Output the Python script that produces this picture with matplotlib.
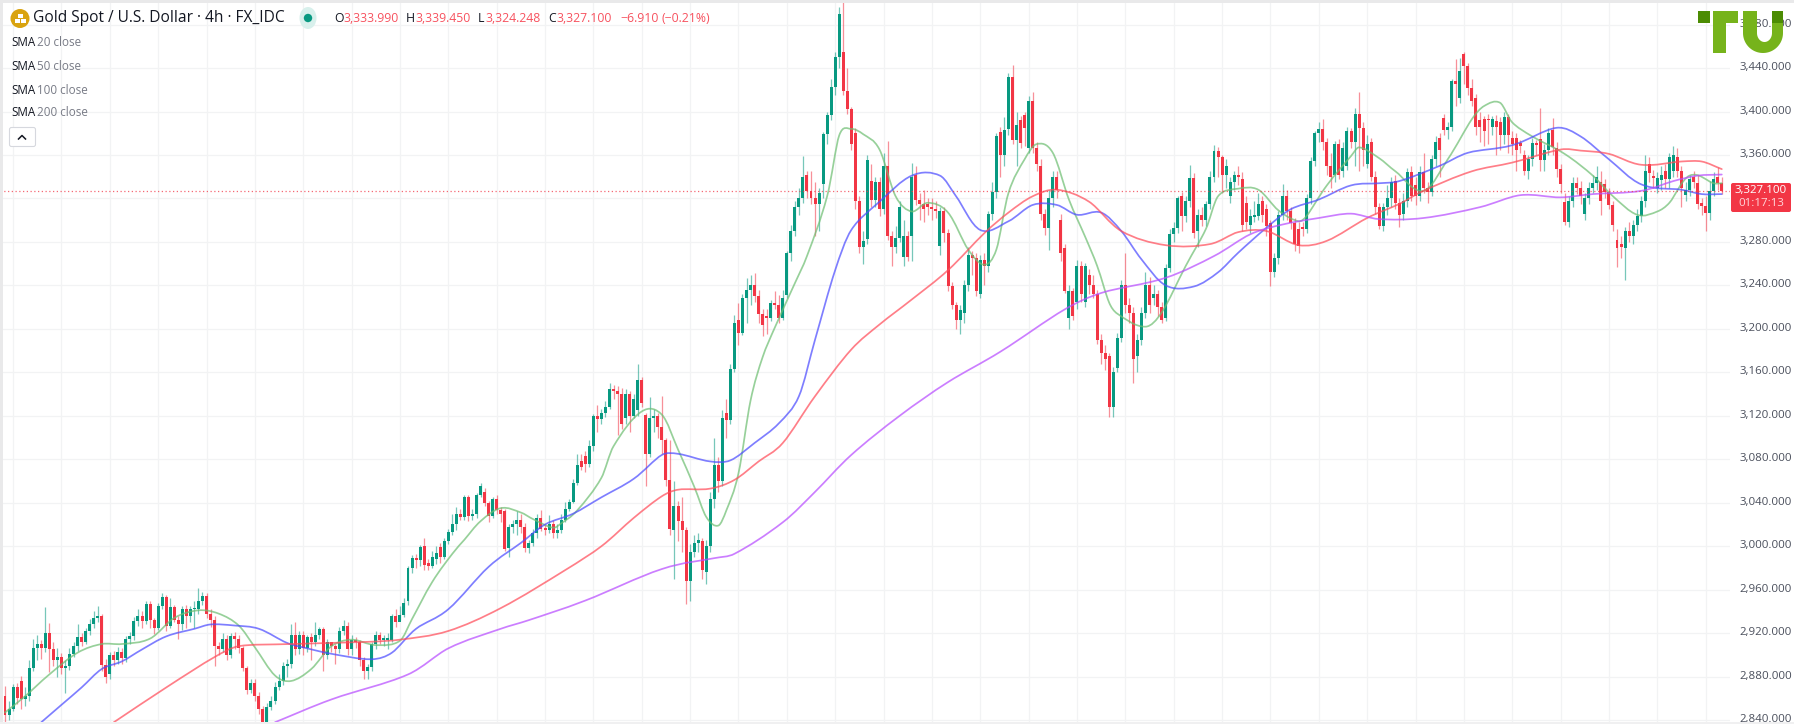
import numpy as np
import matplotlib
matplotlib.use("Agg")
import matplotlib.pyplot as plt
from matplotlib.patches import Rectangle, Circle, Polygon, Ellipse, FancyBboxPatch, PathPatch
from matplotlib.path import Path
from matplotlib.transforms import ScaledTranslation

opens = [
2862,2845,2850,2870,2876,2859,2862,2888,2906,2910,
2906,2920,2905,2895,2898,2888,2890,2901,2908,2916,
2912,2922,2928,2934,2936,2891,2882,2900,2895,2903,
2897,2915,2917,2931,2936,2931,2947,2932,2925,2945,
2953,2927,2944,2932,2928,2942,2936,2942,2942,2950,
2954,2938,2932,2908,2905,2915,2900,2917,2915,2906,
2888,2868,2874,2862,2850,2838,2852,2858,2870,2876,
2890,2892,2918,2905,2918,2906,2916,2912,2918,2924,
2900,2912,2908,2905,2922,2927,2905,2914,2912,2895,
2885,2889,2910,2918,2914,2914,2914,2936,2930,2937,
2950,2980,2989,2987,3000,2985,2982,2988,2999,2990,
3005,3013,3020,3030,3027,3045,3028,3030,3047,3050,
3040,3028,3043,3033,3032,2998,3018,3020,3024,3018,
2998,3003,3012,3026,3016,3015,3020,3012,3015,3024,
3034,3041,3058,3078,3083,3076,3092,3120,3117,3123,
3128,3145,3143,3140,3118,3140,3120,3125,3153,3121,
3085,3118,3120,3110,3098,3061,3015,3037,3023,3015,
2968,2995,3003,3005,2976,3000,3043,3075,3060,3123,
3116,3163,3208,3196,3228,3236,3240,3230,3214,3212,
3210,3224,3222,3210,3231,3270,3290,3312,3320,3342,
3327,3320,3315,3333,3379,3397,3423,3450,3455,3419,
3402,3380,3318,3275,3283,3336,3319,3335,3310,3350,
3285,3275,3284,3266,3285,3285,3342,3319,3315,3315,
3312,3310,3276,3308,3288,3239,3222,3208,3215,3240,
3268,3265,3232,3263,3258,3306,3326,3381,3360,3384,
3432,3374,3392,3397,3366,3410,3366,3350,3306,3293,
3320,3340,3300,3274,3210,3235,3225,3258,3225,3250,
3240,3232,3190,3178,3175,3128,3164,3192,3240,3222,
3215,3175,3190,3215,3240,3228,3232,3220,3210,3256,
3287,3293,3322,3304,3318,3339,3290,3305,3300,3315,
3340,3364,3358,3342,3322,3335,3342,3338,3316,3296,
3303,3304,3318,3310,3297,3252,3265,3305,3322,3308,
3297,3292,3294,3292,3320,3354,3380,3384,3372,3350,
3342,3370,3345,3350,3382,3372,3398,3385,3352,3372,
3340,3312,3295,3312,3320,3336,3316,3306,3318,3344,
3332,3322,3344,3330,3326,3356,3376,3394,3383,3386,
3428,3412,3453,3442,3422,3412,3392,3393,3393,3386,
3391,3390,3378,3395,3376,3376,3371,3360,3345,3356,
3371,3375,3355,3365,3383,3366,3347,3317,3298,3318,
3334,3330,3306,3320,3330,3334,3335,3333,3326,3314,
3282,3278,3274,3290,3285,3296,3304,3318,3352,3341,
3330,3337,3345,3338,3345,3358,3345,3323,3328,3340,
3334,3316,3313,3307,3327,3340,3333.99]

closes = [
2845,2850,2870,2860,2859,2862,2888,2906,2910,2906,
2920,2905,2895,2898,2888,2890,2901,2908,2916,2912,
2922,2928,2934,2936,2891,2880,2900,2895,2903,2897,
2915,2917,2931,2936,2931,2947,2932,2925,2945,2953,
2927,2944,2932,2928,2942,2936,2942,2942,2950,2954,
2938,2932,2908,2905,2915,2900,2917,2915,2906,2888,
2868,2874,2862,2850,2838,2852,2858,2870,2876,2890,
2892,2918,2905,2918,2906,2916,2912,2918,2924,2900,
2912,2908,2905,2922,2927,2905,2914,2912,2895,2885,
2889,2910,2918,2914,2914,2914,2936,2930,2937,2948,
2980,2989,2987,2999,2983,2982,2990,2994,2990,3005,
3013,3020,3030,3027,3045,3028,3030,3047,3055,3040,
3028,3043,3033,3030,2997,3018,3020,3024,3018,2998,
3003,3012,3026,3016,3015,3020,3012,3015,3024,3034,
3041,3058,3075,3073,3076,3092,3120,3117,3123,3128,
3145,3143,3140,3112,3140,3120,3135,3153,3132,3085,
3118,3120,3110,3098,3061,3016,3037,3023,3015,2968,
2995,3003,3006,2978,3000,3043,3075,3060,3118,3116,
3163,3205,3196,3228,3236,3240,3230,3214,3204,3210,
3224,3222,3210,3228,3270,3290,3312,3320,3340,3327,
3320,3315,3325,3379,3397,3423,3450,3490,3419,3402,
3370,3318,3275,3281,3355,3319,3335,3310,3350,3285,
3275,3284,3312,3285,3266,3340,3319,3315,3310,3312,
3310,3308,3308,3288,3239,3222,3208,3217,3240,3268,
3265,3235,3263,3258,3306,3326,3377,3360,3383,3432,
3374,3388,3371,3385,3410,3366,3352,3306,3293,3320,
3340,3328,3270,3235,3235,3212,3258,3232,3258,3240,
3232,3190,3178,3172,3128,3160,3192,3240,3222,3215,
3172,3190,3215,3240,3222,3232,3220,3208,3256,3287,
3293,3320,3304,3318,3339,3288,3305,3300,3315,3340,
3364,3358,3342,3350,3335,3342,3340,3296,3298,3304,
3304,3315,3305,3295,3252,3265,3305,3322,3308,3297,
3278,3276,3292,3320,3354,3380,3384,3372,3350,3340,
3370,3342,3366,3382,3372,3398,3385,3365,3370,3340,
3312,3295,3312,3320,3335,3316,3305,3318,3344,3322,
3322,3344,3330,3326,3356,3372,3365,3383,3386,3428,
3425,3437,3442,3422,3410,3386,3386,3382,3392,3393,
3386,3378,3395,3378,3370,3365,3368,3345,3356,3371,
3369,3355,3365,3380,3367,3347,3333,3298,3318,3334,
3330,3322,3320,3330,3334,3340,3318,3326,3314,3296,
3274,3275,3290,3285,3296,3304,3318,3345,3343,3339,
3339,3342,3338,3358,3360,3345,3330,3328,3338,3335,
3315,3313,3307,3327,3338,3334,3327.1]

highs = [
2871,2858,2873,2874,2881,2870,2895,2915,2918,2914,
2944,2929,2912,2906,2902,2895,2906,2912,2928,2920,
2925,2933,2940,2945,2938,2896,2903,2904,2907,2906,
2917,2921,2935,2942,2940,2950,2950,2934,2948,2957,
2955,2952,2946,2936,2945,2946,2945,2950,2962,2958,
2957,2942,2936,2912,2920,2918,2920,2921,2918,2908,
2890,2878,2878,2866,2853,2856,2862,2875,2882,2893,
2896,2928,2930,2922,2922,2918,2920,2930,2926,2926,
2915,2912,2910,2926,2932,2930,2918,2916,2914,2898,
2892,2912,2922,2921,2918,2920,2938,2942,2945,2952,
2982,2992,2993,3001,3008,2988,2996,3000,3003,3008,
3016,3030,3036,3034,3047,3047,3034,3049,3058,3054,
3042,3045,3047,3036,3034,3020,3024,3032,3030,3021,
3006,3016,3030,3033,3020,3029,3024,3020,3030,3041,
3043,3062,3085,3085,3088,3098,3122,3130,3126,3134,
3150,3148,3147,3146,3145,3143,3140,3168,3156,3123,
3137,3126,3123,3138,3100,3098,3060,3042,3045,3018,
3002,3010,3012,3008,3006,3050,3100,3082,3125,3135,
3168,3213,3224,3232,3247,3250,3251,3236,3218,3218,
3227,3235,3231,3236,3272,3296,3318,3330,3359,3345,
3345,3335,3330,3381,3400,3430,3455,3496,3501,3440,
3404,3385,3322,3290,3360,3352,3340,3340,3362,3373,
3290,3295,3318,3300,3290,3353,3350,3325,3328,3320,
3320,3318,3312,3312,3292,3243,3225,3222,3245,3275,
3272,3270,3268,3270,3308,3335,3380,3386,3395,3435,
3443,3400,3396,3400,3414,3418,3372,3356,3310,3328,
3345,3345,3306,3278,3240,3238,3263,3262,3261,3255,
3250,3236,3195,3185,3178,3165,3196,3245,3270,3228,
3220,3195,3220,3252,3248,3240,3236,3225,3260,3292,
3298,3322,3326,3322,3351,3343,3310,3312,3318,3345,
3369,3367,3360,3356,3340,3345,3350,3344,3322,3310,
3318,3325,3322,3315,3300,3270,3308,3333,3328,3312,
3302,3298,3298,3324,3358,3382,3390,3393,3376,3362,
3373,3375,3372,3386,3385,3403,3418,3390,3378,3376,
3345,3316,3316,3332,3340,3342,3320,3325,3348,3350,
3340,3350,3362,3335,3360,3377,3380,3398,3390,3430,
3448,3449,3455,3445,3430,3416,3400,3396,3398,3396,
3397,3395,3400,3398,3382,3380,3374,3365,3360,3376,
3374,3403,3370,3385,3394,3372,3352,3325,3322,3340,
3340,3336,3325,3335,3342,3350,3345,3338,3330,3318,
3292,3285,3294,3298,3300,3310,3322,3360,3358,3346,
3344,3350,3352,3362,3368,3366,3350,3335,3342,3345,
3342,3320,3322,3336,3344,3349,3339.45]

lows = [
2838,2840,2848,2855,2850,2853,2858,2885,2895,2896,
2903,2884,2890,2880,2882,2865,2886,2898,2904,2908,
2910,2918,2925,2930,2885,2874,2878,2890,2892,2892,
2893,2910,2914,2927,2925,2928,2925,2919,2923,2942,
2922,2925,2930,2915,2923,2925,2930,2925,2938,2946,
2934,2926,2890,2900,2903,2895,2897,2905,2902,2885,
2864,2865,2858,2846,2835,2836,2849,2855,2868,2872,
2880,2888,2900,2901,2900,2903,2895,2908,2915,2885,
2896,2903,2892,2902,2918,2900,2900,2906,2890,2878,
2878,2885,2905,2910,2908,2905,2912,2926,2932,2935,
2946,2975,2980,2982,2978,2978,2980,2984,2985,2988,
3002,3010,3015,3024,3024,3023,3024,3026,3045,3037,
3022,3026,3030,3022,2996,2990,3012,3010,3012,2995,
2994,3000,3008,3014,3010,3012,3008,3008,3012,3022,
3032,3040,3056,3070,3068,3073,3088,3105,3112,3119,
3126,3135,3102,3108,3112,3105,3118,3120,3128,3055,
3082,3105,3100,3085,3055,3010,2970,3005,2995,2947,
2950,2990,2995,2970,2965,2995,3035,3050,3055,3100,
3112,3160,3185,3194,3205,3222,3225,3205,3193,3195,
3207,3218,3205,3208,3228,3262,3285,3305,3316,3320,
3315,3285,3290,3320,3370,3392,3415,3440,3415,3398,
3365,3310,3270,3260,3278,3312,3312,3304,3306,3282,
3258,3270,3280,3258,3262,3262,3314,3300,3298,3305,
3300,3302,3268,3280,3235,3218,3200,3195,3205,3235,
3250,3230,3228,3240,3252,3300,3320,3340,3350,3378,
3370,3350,3366,3368,3362,3362,3345,3300,3286,3273,
3312,3320,3262,3233,3200,3208,3218,3225,3220,3232,
3228,3186,3168,3162,3119,3119,3160,3188,3215,3205,
3150,3160,3185,3210,3215,3222,3212,3205,3207,3252,
3280,3288,3290,3298,3312,3284,3275,3295,3295,3310,
3335,3340,3325,3330,3316,3328,3332,3290,3292,3288,
3298,3300,3298,3285,3239,3248,3260,3300,3300,3292,
3272,3270,3285,3288,3315,3350,3372,3365,3342,3330,
3335,3338,3340,3346,3366,3350,3345,3350,3348,3336,
3306,3292,3290,3305,3312,3310,3294,3300,3312,3318,
3314,3318,3325,3316,3322,3350,3340,3378,3375,3382,
3405,3408,3425,3415,3405,3378,3372,3368,3370,3378,
3360,3365,3370,3362,3360,3345,3362,3342,3338,3350,
3360,3345,3345,3360,3360,3340,3325,3296,3294,3312,
3324,3315,3300,3315,3325,3328,3305,3320,3310,3290,
3257,3265,3245,3280,3278,3290,3298,3312,3335,3330,
3325,3328,3330,3330,3340,3340,3312,3318,3322,3330,
3310,3305,3290,3300,3322,3328,3324.25]

sma20_bars = [0,5,11,18,24,29,36,42,48,53,58,62,67,71,76,81,86,92,98,101,106,111,114,118,123,128,131,136,138,142,148,151,158,163,167,171,174,177,179,182,185,188,191,196,199,204,207,210,213,217,221,225,229,234,239,243,246,249,253,256,260,264,268,271,274,276,283,287,293,298,301,306,311,316,321,323,328,334,336,341,345,352,358,364,367,371,374,379,387,394,399,405,410,413,418,424,426]
sma20_vals = [2847,2862,2882,2902,2910,2910,2915,2934,2941,2938,2927,2907,2881,2876,2887,2908,2914,2909,2913,2933,2967,2993,3006,3023,3035,3031,3025,3017,3021,3033,3063,3092,3124,3121,3089,3055,3027,3019,3033,3067,3134,3174,3201,3242,3267,3322,3378,3384,3379,3365,3322,3308,3316,3307,3273,3259,3273,3325,3356,3370,3362,3319,3285,3258,3224,3214,3202,3215,3258,3292,3322,3329,3328,3309,3299,3304,3332,3359,3367,3357,3345,3327,3356,3393,3405,3408,3390,3377,3361,3341,3322,3305,3308,3316,3341,3334,3334]
sma50_bars = [9,14,19,24,29,34,40,47,51,57,63,70,75,81,91,96,102,110,120,128,134,141,148,156,163,167,175,180,186,192,197,201,206,210,217,225,232,236,242,249,255,261,266,272,277,282,288,295,301,306,313,319,326,334,341,346,356,363,374,385,391,398,406,416,421,426]
sma50_vals = [2838,2854,2870,2887,2894,2905,2917,2924,2928,2927,2924,2911,2906,2901,2896,2902,2924,2942,2981,3003,3020,3030,3045,3062,3084,3085,3078,3079,3095,3113,3138,3190,3254,3291,3317,3341,3341,3322,3291,3299,3314,3314,3305,3307,3290,3264,3240,3239,3252,3270,3293,3310,3319,3332,3334,3336,3350,3362,3369,3385,3377,3356,3333,3328,3324,3324]
sma100_bars = [27,40,52,58,71,90,98,110,123,139,148,156,163,167,175,181,187,193,201,210,217,225,234,243,249,255,261,269,277,288,299,306,313,321,328,338,346,352,364,374,386,391,398,406,416,421,426]
sma100_vals = [2838,2870,2898,2908,2910,2912,2914,2922,2943,2978,3000,3026,3046,3052,3053,3061,3078,3095,3138,3181,3204,3227,3254,3288,3307,3322,3328,3317,3290,3277,3278,3289,3290,3277,3281,3302,3315,3327,3345,3353,3365,3364,3361,3351,3354,3354,3347]
sma200_bars = [67,81,100,110,123,130,144,163,176,181,193,201,210,222,234,247,263,272,288,300,309,317,326,334,341,352,366,376,386,394,406,414,420,426]
sma200_vals = [2838,2859,2882,2906,2924,2932,2950,2979,2989,2993,3022,3050,3084,3120,3151,3179,3218,3233,3247,3267,3287,3296,3302,3306,3301,3302,3312,3323,3321,3324,3327,3336,3341,3342]

price_ticks = list(range(2840, 3481, 40))
hidden_tick = 3320  # covered by the last-price tag in the reference
grid_bars = list(range(2, 430, 12))
last_price = 3327.1
sma_labels = ["20", "50", "100", "200"]

for a in (closes, highs, lows):
    assert len(a) == len(opens), (len(a), len(opens))

UP, DOWN = "#089981", "#F23645"
W, H = 1794, 724
FONT = "Open Sans"
plt.rcParams["font.family"] = FONT

fig = plt.figure(figsize=(W / 100, H / 100), dpi=100, facecolor="white")
ax = fig.add_axes([0, 0, 1730 / W, 1])
ax.set_xlim(-5 / 4.03, 1725 / 4.03)
ax.set_ylim(2836.4, 3502.6)
for s in ax.spines.values():
    s.set_visible(False)

ax.set_xticks(grid_bars)
ax.set_xticklabels([])
ax.set_yticks(price_ticks)
ax.set_yticklabels(["" if p == hidden_tick else f"{p:,.3f}" for p in price_ticks],
                   fontsize=8.25, color="#4a4f5c")
ax.yaxis.tick_right()
ax.tick_params(axis="both", length=0, pad=7)
lift = ScaledTranslation(0, 2 / 100, fig.dpi_scale_trans)
for lab in ax.get_yticklabels():
    lab.set_transform(lab.get_transform() + lift)
ax.grid(True, color="#f2f3f4", linewidth=0.9)
ax.set_axisbelow(True)

o, c, h, l = map(np.array, (opens, closes, highs, lows))
x = np.arange(len(o))
cols = np.where(c >= o, UP, DOWN)
ax.vlines(x, l, h, colors=cols, linewidth=0.9, alpha=0.55, zorder=3)
ax.bar(x, np.maximum(np.abs(c - o), 1.5), bottom=np.minimum(o, c), width=0.74,
       color=cols, linewidth=0, zorder=4)


def smooth_line(axes, xs, ys, color):
    """Draw the read points as one curve (Bezier segments through each point)."""
    p = np.column_stack([xs, ys]).astype(float)
    tan = np.gradient(p, axis=0)
    verts = [p[0]]
    for i in range(len(p) - 1):
        seg = p[i + 1, 0] - p[i, 0]
        scale = seg / max(tan[i, 0] + tan[i + 1, 0], 1e-6) * 2 / 3
        verts += [p[i] + tan[i] * scale, p[i + 1] - tan[i + 1] * scale, p[i + 1]]
    codes = [Path.MOVETO] + [Path.CURVE4] * (3 * (len(p) - 1))
    axes.add_patch(PathPatch(Path(verts, codes), fill=False, edgecolor=color,
                             linewidth=1.25, alpha=0.72, zorder=5, capstyle="round"))


smooth_line(ax, sma20_bars, sma20_vals, "#6FBF73")
smooth_line(ax, sma50_bars, sma50_vals, "#4D4DFF")
smooth_line(ax, sma100_bars, sma100_vals, "#FF4D5A")
smooth_line(ax, sma200_bars, sma200_vals, "#B84DFF")
ax.axhline(last_price, color=DOWN, linewidth=0.9, linestyle=(0, (1, 2)), alpha=0.75, zorder=6)

ov = fig.add_axes([0, 0, 1, 1], zorder=10)
ov.set_xlim(0, W)
ov.set_ylim(H, 0)
ov.axis("off")
ov.patch.set_alpha(0)


def txt(px, py, s, color="#131722", size=8.6, **kw):
    kw.setdefault("va", "center")
    kw.setdefault("ha", "left")
    ov.text(px, py, s, color=color, fontsize=size, **kw)


ov.add_patch(Rectangle((0, 0), W, 2.5, color="#e9e9ea", lw=0))
ov.add_patch(Rectangle((0, 0), 2.5, H, color="#e9e9ea", lw=0))
ov.add_patch(Rectangle((0, 722), W, 2, color="#f0f0f1", lw=0))

# header
ov.add_patch(Circle((20, 18.5), 9.5, color="#D9A30F", lw=0))
ov.add_patch(Rectangle((17.5, 13.5), 5, 4, color="white", lw=0))
ov.add_patch(Rectangle((14.5, 18.5), 5, 4, color="white", lw=0))
ov.add_patch(Rectangle((20.5, 18.5), 5, 4, color="white", lw=0))
txt(33, 18.5, "Gold Spot / U.S. Dollar · 4h · FX_IDC", size=11.2)
ov.add_patch(Ellipse((308, 18), 17, 22, color="#d8f0ec", lw=0))
ov.add_patch(Circle((308, 18), 4.2, color=UP, lw=0))
RED = "#F7525F"
for lx, lab, vx, val in [(334, "O", 343, "3,333.990"), (406, "H", 415, "3,339.450"),
                         (477.5, "L", 485, "3,324.248"), (548, "C", 556.5, "3,327.100")]:
    txt(lx, 18.5, lab, size=8.8)
    txt(vx, 18.5, val, color=RED, size=8.8)
txt(620.5, 18.5, "−6.910", color=RED, size=8.8)
txt(661.5, 18.5, "(−0.21%)", color=RED, size=8.8)

for yy, lab in zip((42, 66, 90, 113), sma_labels):
    txt(11, yy, "SMA", color="#131722", size=8.4)
    txt(37, yy, f"{lab} close", color="#787b86", size=8.4)
ov.add_patch(FancyBboxPatch((9.5, 127.5), 26, 19, boxstyle="round,pad=0,rounding_size=2",
                            fc="white", ec="#d6d8de", lw=0.8))
ov.plot([18.5, 22, 25.5], [139, 135.5, 139], color="#131722", lw=1.1)

# last price tag
ov.add_patch(FancyBboxPatch((1731, 183), 60, 29, boxstyle="round,pad=0,rounding_size=2",
                            fc=DOWN, ec="none", lw=0))
txt(1761, 190.5, "3,327.100", color="white", size=8.25, ha="center")
txt(1761, 203.5, "01:17:13", color="#ffd6da", size=8.25, ha="center")

# logo
LG, DG = "#76B31B", "#4C8C03"
ov.add_patch(Rectangle((1698, 11), 12, 12, color=DG, lw=0))
ov.add_patch(Rectangle((1713, 11), 25, 12, color=LG, lw=0))
ov.add_patch(Rectangle((1713, 11), 13, 42, color=LG, lw=0))
t = np.linspace(np.pi, 0, 40)
outer = np.c_[1763 + 20 * np.cos(t), 33 + 20 * np.sin(t)]
inner = np.c_[1764.5 + 7.5 * np.cos(t[::-1]), 33 + 9 * np.sin(t[::-1])]
pts = np.vstack([[[1743, 11]], outer, [[1783, 11], [1772, 11]], inner, [[1757, 11]]])
ov.add_patch(Polygon(pts, closed=True, color=LG, lw=0))
ov.add_patch(Rectangle((1772, 11), 11, 12, color=DG, lw=0))

fig.savefig("out.png", dpi=100)
